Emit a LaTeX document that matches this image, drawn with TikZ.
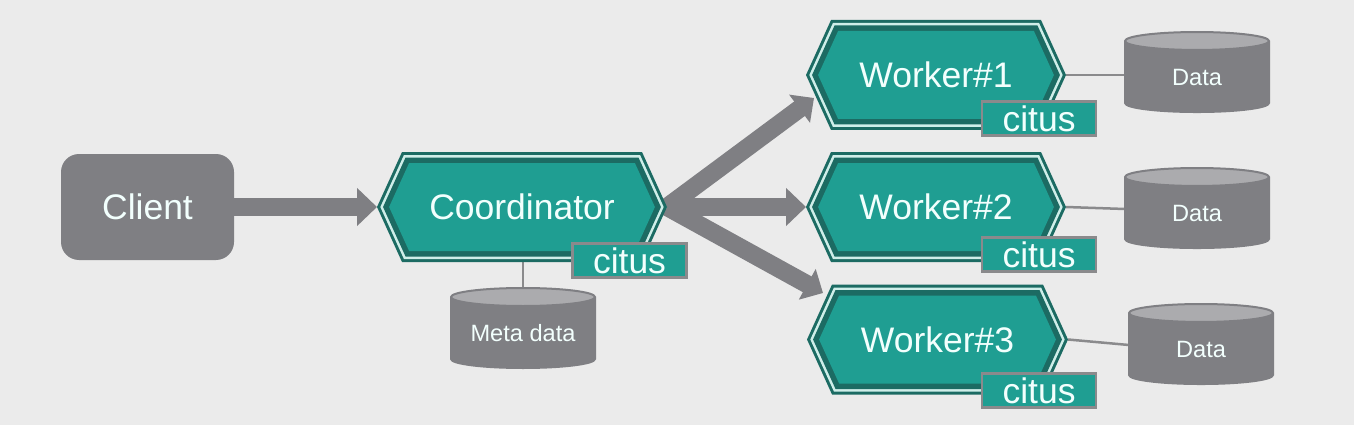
\documentclass[tikz,border=0pt]{standalone}
\usepackage{fontspec}
\setmainfont{Liberation Sans}
\usetikzlibrary{shapes.geometric,arrows.meta}
\definecolor{pagebg}{HTML}{EBEBEB}
\definecolor{greybox}{HTML}{7F7F83}
\definecolor{greytop}{HTML}{ABABAE}
\definecolor{greyline}{HTML}{8A8A8C}
\definecolor{tealfill}{HTML}{1F9E92}
\definecolor{tealdark}{HTML}{1C6B63}
\definecolor{tealring}{HTML}{CFEEE9}
\definecolor{textwhite}{HTML}{F2FFFD}
\pgfdeclarelayer{edges}
\pgfdeclarelayer{paper}
\pgfsetlayers{paper,edges,main}
\tikzset{
  bigtext/.style={text=textwhite, font=\fontsize{35.5}{40}\selectfont},
  smalltext/.style={text=textwhite, font=\fontsize{23.6}{28}\selectfont},
  hexlabel/.style={rectangle, inner sep=0pt, outer sep=0pt, minimum height=110, bigtext},
  citusbox/.style={rectangle, fill=tealfill, draw=greyline, line width=2.5pt, inner sep=0pt, outer sep=0pt,
    minimum width=114, minimum height=34, bigtext},
  clientbox/.style={rectangle, rounded corners=18, fill=greybox, inner sep=0pt, outer sep=0pt,
    minimum width=173, minimum height=106, bigtext},
  store/.style={cylinder, shape border rotate=90, aspect=0.36, cylinder uses custom fill,
    cylinder body fill=greybox, cylinder end fill=greytop, draw=greybox, line width=2pt,
    inner sep=0pt, outer sep=0pt, minimum width=144, minimum height=80, smalltext},
  fatarrow/.style={draw=greybox, line width=18pt, -{Triangle[width=37pt,length=20pt]}},
  slantarrow/.style={draw=greybox, line width=18pt, -{Triangle[width=34pt,length=18pt]}},
  storelink/.style={draw=greyline, line width=2.5pt},
}
% centre x, centre y, half width, inset, colour
\newcommand{\hexlayer}[5]{%
  \pgfmathsetmacro{\hxa}{#3-1.1*#4}%
  \pgfmathsetmacro{\hxb}{55-#4}%
  \pgfmathsetmacro{\hxc}{\hxa-\hxb*25/55}%
  \fill[#5] (#1-\hxa,#2) -- (#1-\hxc,#2-\hxb) -- (#1+\hxc,#2-\hxb) -- (#1+\hxa,#2)
    -- (#1+\hxc,#2+\hxb) -- (#1-\hxc,#2+\hxb) -- cycle;
}
% name, centre x, centre y, half width, text
\newcommand{\hexnode}[5]{%
  \hexlayer{#2}{#3}{#4}{0}{tealdark}
  \hexlayer{#2}{#3}{#4}{3}{tealring}
  \hexlayer{#2}{#3}{#4}{5.5}{tealdark}
  \hexlayer{#2}{#3}{#4}{11}{tealfill}
  \node[hexlabel, minimum width=2*#4] (#1) at (#2,#3) {#5};
}
\begin{document}
\begin{tikzpicture}[x=1pt,y=-1pt]
\useasboundingbox (0,0) rectangle (1354,425);
\begin{pgfonlayer}{paper}
  \fill[pagebg] (0,0) rectangle (1354,425);
\end{pgfonlayer}

\node[clientbox] (client) at (147.5,207) {Client};
\hexnode{coord}{522}{207}{145}{Coordinator}
\hexnode{wone}{936}{75}{130}{Worker\#1}
\hexnode{wtwo}{936}{207}{130}{Worker\#2}
\hexnode{wthree}{937.5}{339.5}{130.5}{Worker\#3}

\node[citusbox] (cit0) at (629.5,260.5) {citus};
\node[citusbox] (cit1) at (1039,118.5) {citus};
\node[citusbox] (cit2) at (1039,254.5) {citus};
\node[citusbox] (cit3) at (1039,390.5) {citus};

\node[store] (meta) at (523,333) {\makebox[50pt]{Meta data}};
\node[store] (dataone) at (1197,77) {Data};
\node[store] (datatwo) at (1197,213) {Data};
\node[store] (datathree) at (1201,349) {Data};

\coordinate (inone) at (814,98);
\coordinate (inthree) at (823,293);

\begin{pgfonlayer}{edges}
  \draw[fatarrow] (client.east) -- (coord.west);
  \draw[slantarrow] (coord.east) -- (inone);
  \draw[fatarrow] (coord.east) -- (wtwo.west);
  \draw[slantarrow] (coord.east) -- (inthree);
  \draw[storelink] (meta.north |- coord.south) -- (meta.north);
  \draw[storelink] (wone.east) -- ([yshift=2pt]dataone.west);
  \draw[storelink] (wtwo.east) -- ([yshift=4pt]datatwo.west);
  \draw[storelink] (wthree.east) -- ([yshift=4pt]datathree.west);
\end{pgfonlayer}
\end{tikzpicture}
\end{document}
